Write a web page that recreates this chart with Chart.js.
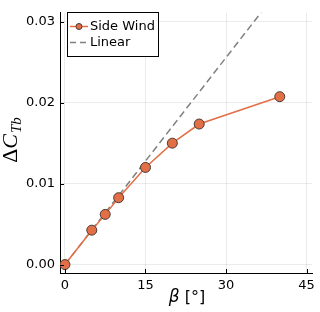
<!DOCTYPE html>
<html>
<head>
<meta charset="utf-8">
<script src="https://cdn.jsdelivr.net/npm/chart.js@4"></script>
<style>
  html, body { margin: 0; padding: 0; background: #fff; }
  #wrap { width: 320px; height: 312px; }
</style>
</head>
<body>
<div id="wrap"><canvas id="myChart" width="320" height="312"></canvas></div>
<script>
// data
var beta = [0, 5, 7.5, 10, 15, 20, 25, 40];
var side_wind = [0, 0.00425, 0.0062, 0.00826, 0.0120, 0.0150, 0.01736, 0.02074];
var linear_x = [0, 40];
var linear_y = [0, 0.0341];
var x_ticks = [0, 15, 30, 45];
var y_ticks = [0, 0.01, 0.02, 0.03];

var orange = '#E26F46';
var font_sans = 'DejaVu Sans';

function pts(xs, ys){
    return xs.map(function(x, i){ return {x: x, y: ys[i]}; });
}

//draw inward ticks, axis labels and the legend
var extras = {
    id: 'extras',
    afterDraw: function(chart){
        var ctx = chart.ctx;
        var a = chart.chartArea;
        var xs = chart.scales.x, ys = chart.scales.y;
        ctx.save();
        ctx.strokeStyle = '#000';
        ctx.lineWidth = 1;
        ctx.beginPath();
        y_ticks.forEach(function(v){
            var py = Math.round(ys.getPixelForValue(v)) + 0.5;
            ctx.moveTo(a.left, py); ctx.lineTo(a.left + 4, py);
        });
        x_ticks.forEach(function(v){
            var px = Math.round(xs.getPixelForValue(v)) + 0.5;
            ctx.moveTo(px, a.bottom); ctx.lineTo(px, a.bottom - 4);
        });
        ctx.stroke();

        // y label: ΔC_Tb
        ctx.save();
        ctx.translate(17, 140);
        ctx.rotate(-Math.PI / 2);
        ctx.fillStyle = '#000';
        ctx.textBaseline = 'alphabetic';
        var f1 = '22px "Liberation Serif"', f2 = 'italic 22px "Liberation Serif"', f3 = 'italic 15px "Liberation Serif"';
        ctx.font = f1; var w1 = ctx.measureText('\u0394').width;
        ctx.font = f2; var w2 = ctx.measureText('C').width;
        ctx.font = f3; var w3 = ctx.measureText('Tb').width;
        var x0 = -(w1 + w2 + w3 + 1) / 2;
        ctx.font = f1; ctx.fillText('\u0394', x0, 0);
        ctx.font = f2; ctx.fillText('C', x0 + w1, 0);
        ctx.font = f3; ctx.fillText('Tb', x0 + w1 + w2 + 1, 4);
        ctx.restore();

        // x label: β [°]
        var g1 = 'italic 17px "DejaVu Sans"', g2 = '16px "DejaVu Sans"';
        ctx.font = g1; var b1 = ctx.measureText('\u03B2').width;
        ctx.font = g2; var b2 = ctx.measureText(' [\u00B0]').width;
        var bx = 187 - (b1 + b2) / 2;
        ctx.fillStyle = '#000';
        ctx.textBaseline = 'middle';
        ctx.font = g1; ctx.fillText('\u03B2', bx, 298);
        ctx.font = g2; ctx.fillText(' [\u00B0]', bx + b1, 298);

        // legend
        ctx.fillStyle = '#fff';
        ctx.fillRect(67.5, 12.5, 91, 44);
        ctx.strokeStyle = '#000';
        ctx.strokeRect(67.5, 12.5, 91, 44);
        ctx.strokeStyle = orange;
        ctx.lineWidth = 1.5;
        ctx.beginPath(); ctx.moveTo(70, 26.5); ctx.lineTo(88, 26.5); ctx.stroke();
        ctx.fillStyle = orange;
        ctx.strokeStyle = '#4a3a33';
        ctx.lineWidth = 1;
        ctx.beginPath(); ctx.arc(79, 26.5, 3, 0, Math.PI * 2); ctx.fill(); ctx.stroke();
        ctx.strokeStyle = '#808080';
        ctx.lineWidth = 1.5;
        ctx.setLineDash([6, 4]);
        ctx.beginPath(); ctx.moveTo(70, 42.5); ctx.lineTo(88, 42.5); ctx.stroke();
        ctx.setLineDash([]);
        ctx.fillStyle = '#000';
        ctx.font = '13px ' + font_sans;
        ctx.textBaseline = 'middle';
        ctx.fillText('Side Wind', 90, 27);
        ctx.fillText('Linear', 90, 43);
        ctx.restore();
    }
};

var ctx = document.getElementById('myChart').getContext('2d');
var myChart = new Chart(ctx, {
    type: 'scatter',
    data: {
        datasets: [{
            label: 'Side Wind',
            data: pts(beta, side_wind),
            showLine: true,
            borderColor: orange,
            borderWidth: 1.5,
            backgroundColor: orange,
            pointBackgroundColor: orange,
            pointBorderColor: '#4a3a33',
            pointBorderWidth: 1,
            pointRadius: 5
        }, {
            label: 'Linear',
            data: pts(linear_x, linear_y),
            showLine: true,
            borderColor: '#808080',
            borderWidth: 1.5,
            borderDash: [7, 4],
            pointRadius: 0
        }]
    },
    options: {
        responsive: false,
        animation: false,
        layout: { padding: { left: 0, top: 2, right: 5, bottom: 0 } },
        plugins: { legend: { display: false }, tooltip: { enabled: false } },
        scales: {
            x: {
                type: 'linear',
                min: -0.92, max: 46.05,
                afterFit: function(s){ s.height = 39; },
                afterBuildTicks: function(s){ s.ticks = x_ticks.map(function(v){ return {value: v}; }); },
                grid: { color: 'rgba(0,0,0,0.08)', drawTicks: false },
                border: { color: '#000', width: 1 },
                ticks: { color: '#000', padding: 5, font: { family: font_sans, size: 13 } }
            },
            y: {
                type: 'linear',
                min: -0.00104, max: 0.0311,
                afterFit: function(s){ s.width = 60; },
                afterBuildTicks: function(s){ s.ticks = y_ticks.map(function(v){ return {value: v}; }); },
                grid: { color: 'rgba(0,0,0,0.08)', drawTicks: false },
                border: { color: '#000', width: 1 },
                ticks: {
                    color: '#000', padding: 5, font: { family: font_sans, size: 13 },
                    callback: function(v){ return v.toFixed(2); }
                }
            }
        }
    },
    plugins: [extras]
});
</script>
</body>
</html>
